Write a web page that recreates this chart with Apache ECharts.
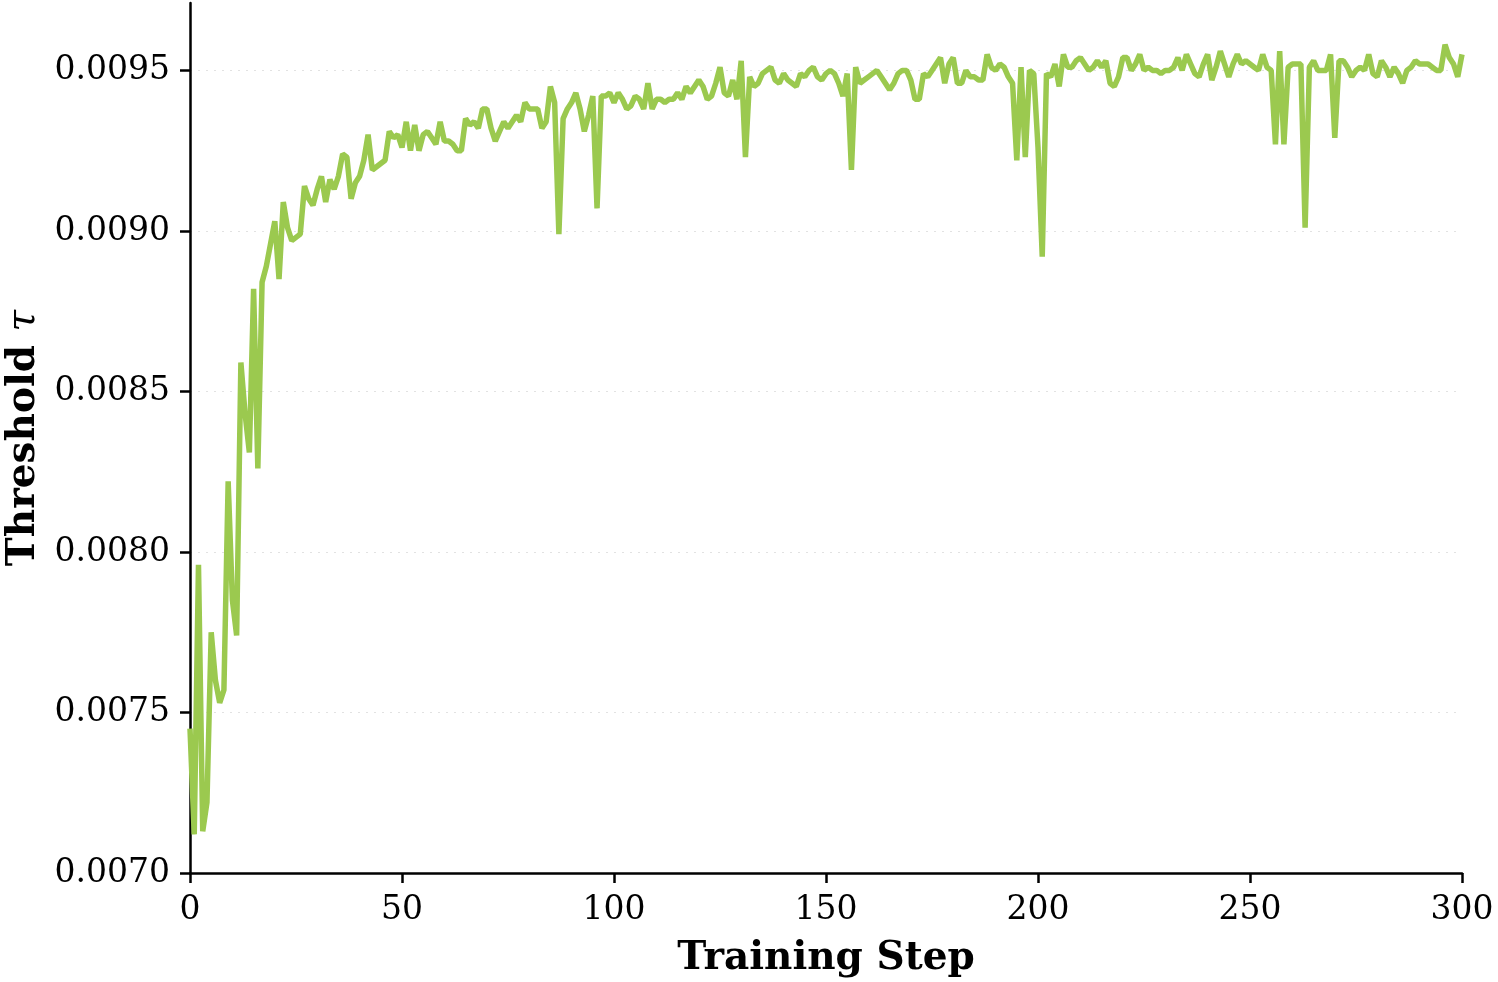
<!DOCTYPE html>
<html>
<head>
<meta charset="utf-8">
<script src="https://cdn.jsdelivr.net/npm/echarts@6/dist/echarts.min.js"></script>
<style>
  html, body { margin: 0; padding: 0; background: #fff; }
  #threshold_chart { width: 1498px; height: 982px; }
</style>
</head>
<body>
<div id="threshold_chart"></div>
<script>
// threshold tau per training step (step = index, 0..300)
const tau = [
  0.00745, 0.00712, 0.00796, 0.00713, 0.00722, 0.00775, 0.00760, 0.00753, 0.00757, 0.00822,
  0.00785, 0.00774, 0.00859, 0.00843, 0.00831, 0.00882, 0.00826, 0.00884, 0.00889, 0.00896,
  0.00903, 0.00885, 0.00909, 0.00901, 0.00897, 0.00898, 0.00899, 0.00914, 0.00910, 0.00908,
  0.00913, 0.00917, 0.00909, 0.00916, 0.00913, 0.00917, 0.00924, 0.00923, 0.00910, 0.00915,
  0.00917, 0.00922, 0.00930, 0.00919, 0.00920, 0.00921, 0.00922, 0.00931, 0.00929, 0.00930,
  0.00926, 0.00934, 0.00925, 0.00933, 0.00925, 0.00930, 0.00931, 0.00929, 0.00927, 0.00934,
  0.00928, 0.00928, 0.00927, 0.00925, 0.00925, 0.00935, 0.00933, 0.00934, 0.00932, 0.00938,
  0.00938, 0.00932, 0.00928, 0.00931, 0.00934, 0.00932, 0.00934, 0.00936, 0.00934, 0.00940,
  0.00938, 0.00938, 0.00938, 0.00932, 0.00934, 0.00945, 0.00940, 0.00899, 0.00935, 0.00938,
  0.00940, 0.00943, 0.00938, 0.00931, 0.00936, 0.00942, 0.00907, 0.00942, 0.00942, 0.00943,
  0.00940, 0.00943, 0.00941, 0.00938, 0.00939, 0.00942, 0.00941, 0.00938, 0.00946, 0.00938,
  0.00941, 0.00941, 0.00940, 0.00941, 0.00941, 0.00943, 0.00941, 0.00945, 0.00943, 0.00945,
  0.00947, 0.00945, 0.00941, 0.00942, 0.00946, 0.00951, 0.00943, 0.00942, 0.00947, 0.00941,
  0.00953, 0.00923, 0.00948, 0.00945, 0.00946, 0.00949, 0.00950, 0.00951, 0.00947, 0.00946,
  0.00949, 0.00947, 0.00946, 0.00945, 0.00949, 0.00948, 0.00950, 0.00951, 0.00948, 0.00947,
  0.00949, 0.00950, 0.00949, 0.00946, 0.00942, 0.00949, 0.00919, 0.00951, 0.00946, 0.00947,
  0.00948, 0.00949, 0.00950, 0.00948, 0.00946, 0.00944, 0.00946, 0.00949, 0.00950, 0.00950,
  0.00947, 0.00941, 0.00941, 0.00949, 0.00948, 0.00950, 0.00952, 0.00954, 0.00946, 0.00952,
  0.00954, 0.00946, 0.00946, 0.00950, 0.00948, 0.00948, 0.00947, 0.00947, 0.00955, 0.00951,
  0.00950, 0.00952, 0.00951, 0.00948, 0.00946, 0.00922, 0.00951, 0.00923, 0.00950, 0.00949,
  0.00926, 0.00892, 0.00949, 0.00948, 0.00952, 0.00945, 0.00955, 0.00951, 0.00951, 0.00953,
  0.00954, 0.00952, 0.00950, 0.00951, 0.00953, 0.00951, 0.00953, 0.00946, 0.00945, 0.00948,
  0.00954, 0.00954, 0.00950, 0.00952, 0.00955, 0.00950, 0.00951, 0.00950, 0.00950, 0.00949,
  0.00950, 0.00950, 0.00951, 0.00954, 0.00950, 0.00955, 0.00952, 0.00949, 0.00948, 0.00952,
  0.00955, 0.00947, 0.00951, 0.00956, 0.00952, 0.00948, 0.00952, 0.00955, 0.00952, 0.00953,
  0.00952, 0.00951, 0.00950, 0.00955, 0.00951, 0.00950, 0.00927, 0.00956, 0.00927, 0.00951,
  0.00952, 0.00952, 0.00952, 0.00901, 0.00951, 0.00953, 0.00950, 0.00950, 0.00950, 0.00955,
  0.00929, 0.00953, 0.00953, 0.00951, 0.00948, 0.00950, 0.00951, 0.00950, 0.00955, 0.00949,
  0.00948, 0.00953, 0.00951, 0.00948, 0.00951, 0.00949, 0.00946, 0.00950, 0.00951, 0.00953,
  0.00952, 0.00952, 0.00952, 0.00951, 0.00950, 0.00950, 0.00958, 0.00954, 0.00952, 0.00948,
  0.00955
];

const xTicks = [0, 50, 100, 150, 200, 250, 300];
const yTicks = [0.0070, 0.0075, 0.0080, 0.0085, 0.0090, 0.0095];

const font = 'DejaVu Serif';
const ink = '#000';

const data = tau.map((v, i) => [i, v]);

const myChart = echarts.init(document.getElementById('threshold_chart'));
myChart.setOption({
  animation: false,
  backgroundColor: '#fff',
  grid: { left: 190, right: 36, top: 3, bottom: 109, containLabel: false, outerBoundsMode: 'none' },
  xAxis: {
    type: 'value',
    min: xTicks[0],
    max: xTicks[xTicks.length - 1],
    interval: 50,
    name: 'Training Step',
    nameLocation: 'middle',
    nameGap: 66,
    nameTextStyle: { fontFamily: font, fontWeight: 'bold', fontSize: 39, color: ink },
    axisLine: { lineStyle: { color: ink, width: 2.5 } },
    axisTick: { length: 10, lineStyle: { color: ink, width: 2.5 } },
    axisLabel: { fontFamily: font, fontSize: 33, color: ink, margin: 21 },
    splitLine: { show: false }
  },
  yAxis: {
    type: 'value',
    min: yTicks[0],
    max: 0.00971,
    interval: 0.0005,
    name: '{b|Threshold }{i|τ}',
    nameLocation: 'middle',
    nameGap: 146,
    nameRotate: 90,
    nameTextStyle: {
      rich: {
        b: { fontFamily: font, fontWeight: 'bold', fontSize: 39, color: ink },
        i: { fontFamily: font, fontStyle: 'italic', fontSize: 39, color: ink }
      }
    },
    axisLine: { show: true, lineStyle: { color: ink, width: 2.5 } },
    axisTick: { show: true, length: 10, lineStyle: { color: ink, width: 2.5 } },
    axisLabel: {
      fontFamily: font, fontSize: 33, color: ink, margin: 20,
      showMaxLabel: false,
      formatter: (v) => v.toFixed(4)
    },
    splitLine: {
      show: true,
      showMinLine: false,
      showMaxLine: false,
      lineStyle: { color: '#e2e2e2', type: [2, 6], width: 1.2 }
    }
  },
  series: [
    {
      name: 'tau',
      type: 'line',
      data: data,
      showSymbol: false,
      lineStyle: { color: '#9bc94f', width: 5.5 },
      itemStyle: { color: '#9bc94f' }
    }
  ]
});
</script>
</body>
</html>
